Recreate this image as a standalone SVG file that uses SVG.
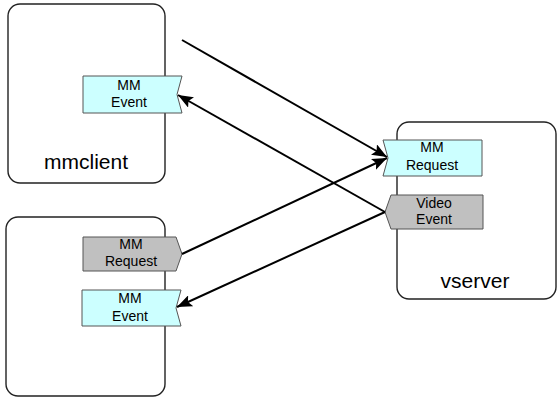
<svg xmlns="http://www.w3.org/2000/svg" width="558" height="399" viewBox="0 0 558 399">
<defs>
<style>
.box{fill:#ffffff;stroke:#222222;stroke-width:1.4}
.cyan{fill:#ccffff;stroke:#555555;stroke-width:1}
.gray{fill:#c0c0c0;stroke:#555555;stroke-width:1}
.lbl{font-family:"Liberation Sans",Arial,sans-serif;font-size:14px;fill:#000000;text-anchor:middle}
.title{font-family:"Liberation Sans",Arial,sans-serif;font-size:21px;fill:#000000;text-anchor:middle}
.conn{stroke:#000000;stroke-width:2;fill:none;marker-end:url(#arr)}
</style>
<marker id="arr" markerUnits="userSpaceOnUse" markerWidth="16" markerHeight="12" refX="15" refY="6" orient="auto">
<path d="M0,0 L15,6 L0,12 L3,6 z" fill="#000000"/>
</marker>
</defs>
<g id="mmclient">
<rect class="box" x="8" y="4" width="157" height="179" rx="12" ry="12"/>
<text class="title" x="86" y="169">mmclient</text>
</g>
<g id="mmclient-mm-event">
<polygon class="cyan" points="83,76 182,76 177,94.5 182,113 83,113"/>
<text class="lbl" x="129" y="90">MM</text>
<text class="lbl" x="129" y="107">Event</text>
</g>
<g id="client2">
<rect class="box" x="6" y="217" width="159" height="179" rx="12" ry="12"/>
</g>
<g id="client2-mm-request">
<polygon class="gray" points="83,237 176,237 182,254 176,271 83,271"/>
<text class="lbl" x="131" y="249">MM</text>
<text class="lbl" x="131" y="266">Request</text>
</g>
<g id="client2-mm-event">
<polygon class="cyan" points="82,290 181,290 176,308 181,326 82,326"/>
<text class="lbl" x="130" y="303">MM</text>
<text class="lbl" x="130" y="321">Event</text>
</g>
<g id="vserver">
<rect class="box" x="397" y="122" width="159" height="177" rx="12" ry="12"/>
<text class="title" x="475" y="288">vserver</text>
</g>
<g id="vserver-mm-request">
<polygon class="cyan" points="383,140 482,140 482,176 383,176 388,158"/>
<text class="lbl" x="432" y="152">MM</text>
<text class="lbl" x="432" y="170">Request</text>
</g>
<g id="vserver-video-event">
<polygon class="gray" points="391,195 483,195 483,229 391,229 385,212"/>
<text class="lbl" x="434" y="208">Video</text>
<text class="lbl" x="434" y="224">Event</text>
</g>
<g id="connectors">
<line class="conn" x1="182" y1="40" x2="387" y2="157"/>
<line class="conn" x1="385" y1="212" x2="178" y2="95"/>
<line class="conn" x1="182" y1="254" x2="387" y2="158"/>
<line class="conn" x1="385" y1="212" x2="177" y2="307"/>
</g>
</svg>
